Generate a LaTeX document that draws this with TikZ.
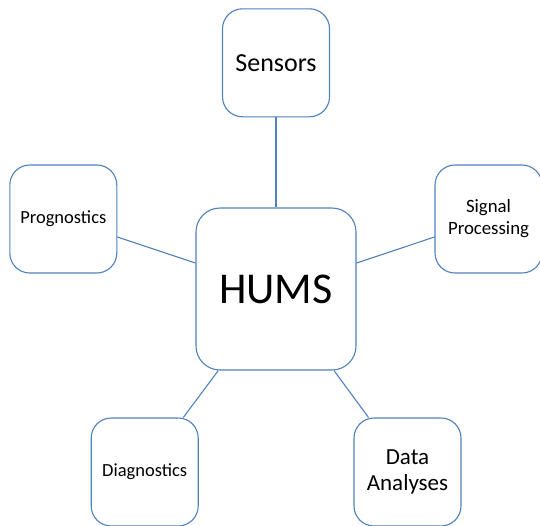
\documentclass[tikz,border=0pt]{standalone}
\usepackage{fontspec}
\setmainfont{Carlito}
\usepackage{xcolor}
\definecolor{humsblue}{RGB}{79,129,189}
\usepackage{tikz}
\usetikzlibrary{positioning}

\begin{document}
\begin{tikzpicture}[x=1pt, y=-1pt,
  box/.style={draw=humsblue, line width=1.1pt, fill=white, rounded corners=20pt,
              minimum width=107pt, minimum height=108pt, inner sep=2pt,
              align=center, text=black},
  link/.style={draw=humsblue, line width=1.1pt}]

\useasboundingbox (0,0) rectangle (540,525);

% Centre
\node[box, minimum width=160pt, minimum height=162pt, rounded corners=24pt,
      font=\fontsize{44}{50}\selectfont] (hums) at (276,289) {HUMS};

% --- Outer boxes ---
\node[box, font=\fontsize{26}{30}\selectfont] (sensors) at (276,62.8) {Sensors};
\node[box, font=\fontsize{18.5}{22}\selectfont] (prog) at (63.3,219) {Prognostics};
\node[box, font=\fontsize{18.8}{22}\selectfont] (signal) at (488.5,219) {Signal\\Processing};
\node[box, font=\fontsize{18.5}{22}\selectfont] (diag) at (144.7,472) {Diagnostics};
\node[box, font=\fontsize{23}{26.7}\selectfont] (data) at (407.5,472) {Data\\Analyses};

% Connectors
\draw[link] (sensors.south) -- (hums.north);
\draw[link] ([yshift=-18pt]prog.east) -- ([yshift=26pt]hums.west);
\draw[link] ([yshift=-18pt]signal.west) -- ([yshift=26pt]hums.east);
\draw[link] ([xshift=38.6pt]diag.north) -- ([xshift=-57.7pt]hums.south);
\draw[link] ([xshift=-39pt]data.north) -- ([xshift=58pt]hums.south);

\end{tikzpicture}
\end{document}
